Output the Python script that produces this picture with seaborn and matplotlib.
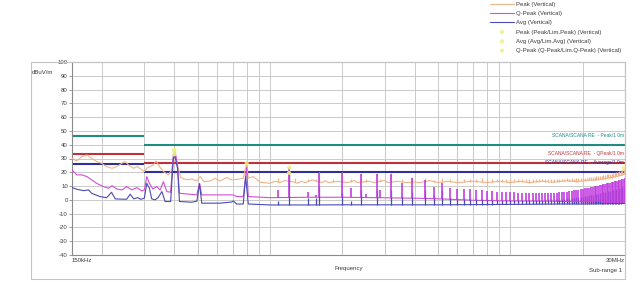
import numpy as np
import pandas as pd
import matplotlib
matplotlib.use("Agg")
import matplotlib.pyplot as plt
from matplotlib.patches import Rectangle
from matplotlib.ticker import FixedLocator, NullFormatter
import seaborn as sns

# ---------------- data (MHz, dBuV/m) ----------------
peak_f = [0.150, 0.157, 0.165, 0.173, 0.181, 0.190, 0.199, 0.209, 0.220, 0.230,
          0.242, 0.249, 0.258, 0.270, 0.281, 0.293, 0.300, 0.307, 0.317, 0.327,
          0.336, 0.347, 0.360, 0.378, 0.390, 0.400, 0.412, 0.425, 0.450, 0.473,
          0.496, 0.512, 0.532, 0.564, 0.591, 0.619, 0.660, 0.692, 0.738, 0.774,
          0.800, 0.812, 0.852, 0.909, 1.00, 1.05, 1.10, 1.15, 1.25, 1.30,
          1.35, 1.40, 1.50, 1.65, 1.70, 1.75, 1.90, 2.10, 2.25, 2.30,
          2.60, 2.70, 3.00, 3.10, 3.40, 3.70, 4.00, 4.20, 4.60, 5.00,
          5.50, 6.00, 7.00, 8.00, 9.00, 10.0, 11.0, 12.0, 13.5, 15.0,
          17.0, 19.0, 21.0, 23.0, 25.0, 27.0, 29.0, 30.0]
peak_db = [30.2, 28.2, 31.4, 32.6, 30.2, 27.8, 26.5, 24.1, 22.9, 24.1,
           26.5, 27.8, 25.3, 22.9, 24.1, 21.7, 20.5, 22.9, 24.1, 25.3,
           28.2, 24.1, 20.5, 18.1, 22.0, 36.2, 25.0, 16.2, 14.5, 15.2,
           13.7, 16.9, 13.2, 13.7, 15.7, 13.7, 16.2, 14.5, 15.0, 15.7,
           26.5, 15.7, 16.9, 12.8, 12.0, 13.5, 12.5, 14.0, 13.0, 12.0,
           13.5, 12.5, 14.5, 12.5, 14.0, 12.5, 13.5, 12.5, 14.0, 12.5,
           13.5, 12.5, 14.0, 12.5, 13.5, 12.5, 13.0, 12.5, 14.0, 12.5,
           13.5, 12.5, 13.5, 12.5, 13.5, 12.5, 13.5, 12.5, 13.5, 12.8,
           13.8, 13.2, 14.2, 14.5, 15.5, 16.5, 18.0, 19.0]

qp_f = [0.150, 0.157, 0.165, 0.173, 0.181, 0.190, 0.203, 0.213, 0.220, 0.230,
        0.242, 0.253, 0.266, 0.279, 0.293, 0.300, 0.307, 0.315, 0.325, 0.338,
        0.349, 0.360, 0.372, 0.386, 0.396, 0.403, 0.412, 0.420, 0.496, 0.509,
        0.520, 0.704, 0.726, 0.774, 0.800, 0.812, 1.00, 1.50, 2.00, 3.00,
        4.00, 5.00, 7.00, 10.0, 15.0, 20.0, 25.0, 30.0]
qp_db = [21.7, 18.1, 18.1, 16.9, 14.5, 12.0, 9.6, 8.4, 10.3, 7.9,
         7.2, 9.6, 7.2, 8.9, 6.5, 7.2, 16.9, 12.0, 7.9, 9.6,
         7.2, 13.2, 6.0, 5.5, 32.6, 34.8, 25.3, 4.8, 3.6, 12.0,
         3.6, 3.6, 2.4, 2.4, 23.5, 2.4, 1.6, 1.9, 1.9, 1.5,
         1.2, 0.8, -0.3, -0.8, -1.0, -1.5, -2.0, -2.2]

avg_f = [0.150, 0.157, 0.167, 0.176, 0.181, 0.196, 0.209, 0.219, 0.227, 0.253,
         0.262, 0.271, 0.281, 0.290, 0.300, 0.307, 0.315, 0.322, 0.333, 0.342,
         0.355, 0.366, 0.386, 0.396, 0.402, 0.412, 0.420, 0.473, 0.496, 0.509,
         0.520, 0.619, 0.692, 0.704, 0.726, 0.774, 0.792, 0.812, 1.00, 1.50,
         2.00, 3.00, 5.00, 8.00, 12.0, 16.0, 20.0, 25.0, 30.0]
avg_db = [8.9, 7.7, 6.7, 7.2, 4.8, 2.4, 1.6, 5.5, 0.7, 0.4,
          4.1, 0.7, 1.6, 0.4, 1.2, 12.0, 8.4, 0.7, 0.0, 1.6,
          6.0, -1.2, -1.2, 30.0, 32.0, 23.0, -1.2, -1.7, -1.0, 11.5,
          -2.4, -2.4, -1.6, -0.8, -3.0, -3.0, 17.0, -3.0, -3.7, -3.7,
          -3.6, -3.6, -3.6, -3.4, -3.2, -3.0, -3.0, -2.8, -2.6]

# narrow harmonic spikes above 1 MHz (top level of each trace, nan = none)
spk_f = [1.08, 1.20, 1.27, 1.44, 1.55, 1.60, 1.83, 2.00, 2.17, 2.40,
         2.50, 2.80, 2.88, 3.20, 3.55, 3.90, 4.40, 4.80, 5.20, 5.60,
         6.00, 6.40, 6.80, 7.20, 7.60, 8.00, 8.40, 8.80, 9.20, 9.60,
         10.0, 10.4, 10.8, 11.2, 11.6, 12.0, 12.4, 12.8, 13.2, 13.6,
         14.0, 14.4, 14.8, 15.2, 15.6, 16.0, 16.4, 16.8, 17.2, 17.6,
         18.0, 18.4, 18.8, 19.2, 19.6, 20.0, 20.4, 20.8, 21.2, 21.6,
         22.0, 22.4, 22.8, 23.2, 23.6, 24.0, 24.4, 24.8, 25.2, 25.6,
         26.0, 26.4, 26.8, 27.2, 27.6, 28.0, 28.4, 28.8, 29.2, 29.6,
         30.0]
spk_pk = [15.5, 24.6, 15.6, 15.0, 15.0, 20.5, 14.8, 20.5, 15.0, 19.3,
          15.0, 19.3, 15.0, 19.3, 15.0, 16.8, 15.5, 14.5, 15.5, 15.0,
          15.5, 15.0, 15.2, 14.8, 15.5, 15.0, 15.3, 14.9, 15.2, 15.0,
          15.4, 14.9, 15.2, 15.0, 15.3, 14.8, 15.2, 15.0, 15.3, 14.9,
          15.2, 15.0, 15.3, 15.1, 15.3, 15.2, 15.4, 15.1, 15.5, 15.4,
          15.6, 15.4, 15.8, 15.6, 16.0, 15.8, 16.2, 16.1, 16.5, 16.4,
          16.8, 16.9, 17.2, 17.1, 17.6, 17.5, 18.0, 18.1, 18.5, 18.6,
          19.0, 19.1, 19.6, 19.7, 20.2, 20.3, 20.8, 21.0, 21.6, 22.2,
          22.8]
spk_qp = [7.2, 23.0, np.nan, 6.0, 3.5, 19.3, np.nan, 19.3, 8.4, 19.0,
          4.0, 18.5, 7.2, 18.5, 12.0, 16.0, 14.4, 9.6, 12.0, 8.5,
          8.0, 8.0, 7.8, 7.5, 7.0, 6.5, 6.2, 6.0, 5.8, 5.6,
          5.5, 5.4, 5.3, 5.2, 5.1, 5.0, 5.0, 4.9, 4.8, 4.8,
          4.8, 4.9, 5.0, 5.0, 5.2, 5.4, 5.6, 5.8, 6.0, 6.2,
          6.5, 6.8, 7.0, 7.3, 7.6, 8.0, 8.3, 8.6, 8.9, 9.2,
          9.5, 9.8, 10.1, 10.4, 10.7, 11.0, 11.3, 11.6, 11.9, 12.2,
          12.5, 12.8, 13.1, 13.4, 13.7, 14.0, 14.3, 14.6, 15.0, 15.3,
          15.6]
spk_av = [-0.5, 19.5, np.nan, 1.1, 1.1, 10.0, np.nan, 5.0, -1.0, 7.2,
          np.nan, 7.2, np.nan, 7.2, 3.0, 6.0, 7.0, 3.5, 7.0, 1.5,
          1.2, 1.0, 1.0, 0.8, 0.5, 0.5, 0.3, 0.2, 0.0, 0.0,
          0.0, -0.1, -0.1, -0.1, 0.0, 0.0, 0.0, 0.1, 0.1, 0.2,
          0.2, 0.3, 0.3, 0.4, 0.4, 0.5, 0.6, 0.8, 1.0, 1.2,
          1.4, 1.6, 1.8, 2.0, 2.2, 2.4, 2.7, 3.0, 3.2, 3.5,
          3.8, 4.0, 4.3, 4.6, 4.9, 5.2, 5.4, 5.7, 6.0, 6.3,
          6.6, 6.9, 7.2, 7.5, 7.8, 8.1, 8.4, 8.7, 9.0, 9.3,
          9.6]

# limit lines (two frequency segments)
lim_edges = [0.15, 0.30, 30.0]
lim_peak = [46, 40]
lim_qp = [33, 27]
lim_avg = [26, 20]
lim_names = ["SCANA/SCANA RE  - Peak/1 0m",
             "SCANA/SCANA RE  - QPeak/1 0m",
             "SCANA/SCANA RE  - Average/1 0m"]

# final measurement markers
mk_peak_f, mk_peak_db = [0.40, 0.80, 29.6], [36.5, 26.5, 23.0]
mk_avg_f, mk_avg_db = [0.40, 1.20], [33.0, 19.5]
mk_qp_f, mk_qp_db = [0.40, 1.20], [35.0, 23.5]

yticks = list(range(-40, 101, 10))
vgrid = [0.2, 0.3, 0.4, 0.5, 0.6, 0.7, 0.8, 0.9, 1, 2, 3, 4, 5, 6, 7, 8, 9, 10, 20]

# ---------------- style ----------------
sns.set_theme(style="white")
plt.rcParams["font.family"] = ["Liberation Sans", "DejaVu Sans"]

FS = 4.3
TXT = "#3c3c3c"
C_PEAK = "#eeb48a"
C_QP = "#cf4fd6"
C_QPS = "#c23ee0"
C_AVG = "#4a4ab4"
C_LP, C_LQ, C_LA = "#1f8c84", "#c0303a", "#2f2f9a"
C_MK = "#eef07c"
GRID = "#cbcbcb"

W, H = 640, 282
fig = plt.figure(figsize=(W / 100, H / 100), dpi=100)
fig.patch.set_facecolor("white")
L, R, T, B = 72, 625, 62, 255
ax = fig.add_axes([L / W, 1 - B / H, (R - L) / W, (B - T) / H])
ax.set_xscale("log")

# outer frame
fig.add_artist(Rectangle((31 / W, 1 - 279 / H), (625 - 31) / W, (279 - 62) / H,
                         transform=fig.transFigure, fill=False,
                         edgecolor="#c4c4c4", lw=0.8))

# limit lines
for vals, col in ((lim_peak, C_LP), (lim_qp, C_LQ), (lim_avg, C_LA)):
    ax.hlines(vals, lim_edges[:-1], lim_edges[1:], colors=col, lw=1.5, zorder=2)
lab_y = [46.6, 33.3, 26.8]
for nm, fy, col in zip(lim_names, lab_y, (C_LP, C_LQ, C_LA)):
    ax.text(29.7, fy, nm, color=col, fontsize=3.5, ha="right", va="center",
            clip_on=True, zorder=2)


def spikes(fs, tops, base_f, base_db, color, z, lw):
    fs = np.asarray(fs, float)
    tops = np.asarray(tops, float)
    m = ~np.isnan(tops)
    base = np.interp(np.log10(fs[m]), np.log10(base_f), base_db)
    ax.vlines(fs[m], base, tops[m], colors=color, lw=lw, zorder=z)


# traces
sns.lineplot(data=pd.DataFrame({"f": peak_f, "db": peak_db}), x="f", y="db",
             color=C_PEAK, lw=0.8, estimator=None, sort=False, ax=ax,
             label="Peak (Vertical)", zorder=3)
spikes(spk_f, spk_pk, peak_f, peak_db, C_PEAK, 3, 0.9)
sns.lineplot(data=pd.DataFrame({"f": qp_f, "db": qp_db}), x="f", y="db",
             color=C_QP, lw=0.8, estimator=None, sort=False, ax=ax,
             label="Q-Peak (Vertical)", zorder=4)
sns.lineplot(data=pd.DataFrame({"f": avg_f, "db": avg_db}), x="f", y="db",
             color=C_AVG, lw=0.8, estimator=None, sort=False, ax=ax,
             label="Avg (Vertical)", zorder=5)
spikes(spk_f, spk_av, avg_f, avg_db, C_AVG, 5, 0.9)
spikes(spk_f, spk_qp, qp_f, qp_db, C_QPS, 5.5, 1.2)

sns.scatterplot(x=mk_peak_f, y=mk_peak_db, color=C_MK, s=9, edgecolor="none",
                alpha=0.85, ax=ax, label="Peak (Peak/Lim.Peak) (Vertical)", zorder=6)
sns.scatterplot(x=mk_avg_f, y=mk_avg_db, color=C_MK, s=9, edgecolor="none",
                alpha=0.85, ax=ax, label="Avg (Avg/Lim.Avg) (Vertical)", zorder=6)
sns.scatterplot(x=mk_qp_f, y=mk_qp_db, color=C_MK, s=9, edgecolor="none",
                alpha=0.85, ax=ax, label="Q-Peak (Q-Peak/Lim.Q-Peak) (Vertical)", zorder=6)

# axes
ax.set_xlim(0.15, 30)
ax.set_ylim(-40, 100)
ax.set_yticks(yticks)
ax.set_yticklabels([str(v) for v in yticks])
ax.xaxis.set_minor_locator(FixedLocator(vgrid))
ax.xaxis.set_minor_formatter(NullFormatter())
ax.set_xticks([0.15, 30])
ax.set_xticklabels(["150kHz", "30MHz"])
xl = ax.get_xticklabels()
xl[0].set_ha("left")
xl[1].set_ha("right")
ax.grid(True, which="minor", axis="x", color=GRID, lw=0.7)
ax.grid(True, which="major", axis="y", color=GRID, lw=0.7)
ax.set_axisbelow(True)
ax.tick_params(axis="y", length=2, width=0.6, color="#8a8a8a", pad=1,
               labelsize=FS, labelcolor=TXT, left=True)
ax.tick_params(axis="x", which="both", length=0, pad=2, labelsize=FS, labelcolor=TXT)
ax.set_xlabel("Frequency", fontsize=FS, color=TXT, labelpad=2.5)
ax.set_ylabel("")
for s in ("left", "bottom"):
    ax.spines[s].set_color("#8a8a8a")
    ax.spines[s].set_linewidth(0.8)
for s in ("top", "right"):
    ax.spines[s].set_color("#c4c4c4")
    ax.spines[s].set_linewidth(0.8)
ax.text(0.995, -0.078, "Sub-range 1", transform=ax.transAxes, ha="right",
        va="center", fontsize=FS, color=TXT)
fig.text(32 / W, 1 - 73 / H, "dBuV/m", ha="left", va="center", fontsize=FS, color=TXT)

h, lab = ax.get_legend_handles_labels()
leg = ax.legend(h, lab, loc="upper left", bbox_to_anchor=(490 / W, 1 - 1.5 / H),
                bbox_transform=fig.transFigure, frameon=False, fontsize=FS,
                handlelength=4.0, handletextpad=0.35, labelspacing=0.69,
                borderpad=0, borderaxespad=0, labelcolor=TXT)

fig.savefig("out.png", dpi=100, facecolor="white")
